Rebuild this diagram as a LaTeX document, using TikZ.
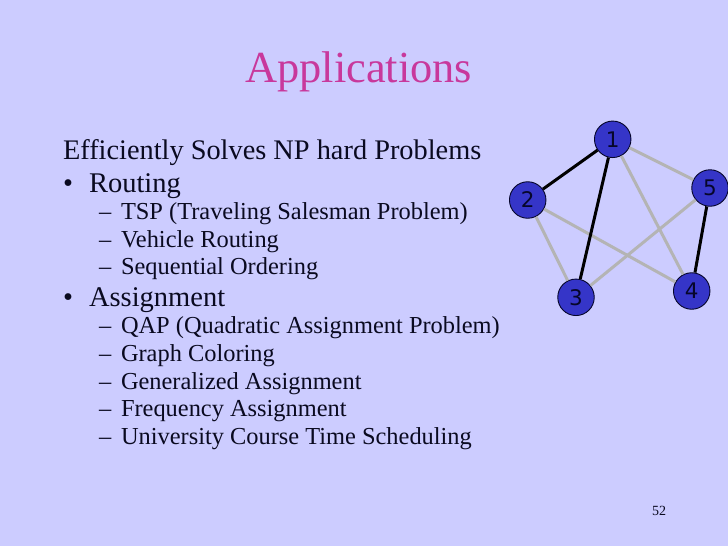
\documentclass[tikz,border=0pt]{standalone}
\usepackage{fontspec}
\setmainfont{Liberation Serif}
\newfontfamily\labelfont{DejaVu Sans}
\definecolor{slidebg}{HTML}{CCCCFF}
\definecolor{titlecol}{HTML}{C8389C}
\definecolor{nodefill}{HTML}{3535C8}
\definecolor{nodeink}{HTML}{06062A}
\definecolor{greyedge}{HTML}{B4B4B4}
\definecolor{bodyink}{HTML}{0A0A20}
\newcommand{\fs}[1]{\fontsize{#1}{#1}\selectfont}
\tikzset{
  x=1pt,y=-1pt,
  vertex/.style={circle,draw=nodeink,line width=0.9pt,fill=nodefill,minimum size=36.5pt,inner sep=0pt,text=nodeink,font=\labelfont\fs{21.5}},
  heavy/.style={draw=black,line width=3pt},
  light/.style={draw=greyedge,line width=3pt},
  txt/.style={anchor=base west,inner sep=0pt,outer sep=0pt,text=bodyink},
  lvlzero/.style={txt,font=\fs{28.35}},
  lvlone/.style={txt,font=\fs{28.5}},
  lvltwo/.style={txt,font=\fs{24.4}}
}
\begin{document}
\begin{tikzpicture}
\useasboundingbox (0,0) rectangle (728,546);
\fill[slidebg] (0,0) rectangle (728,546);
\node[anchor=base west,inner sep=0pt,text=titlecol,font=\fs{44.4}] (title) at (245,82) {Applications};
\node[lvlzero] (head) at (63,159) {Efficiently Solves NP hard Problems};
\node[lvlone] (b1) at (63,192) {•};
\node[lvlone] (routing) at (89,192) {Routing};
\node[lvltwo] (d1) at (99,219) {–};
\node[lvltwo] (tsp) at (121,219) {TSP (Traveling Salesman Problem)};
\node[lvltwo] (d2) at (99,247) {–};
\node[lvltwo] (veh) at (121,247) {Vehicle Routing};
\node[lvltwo] (d3) at (99,274) {–};
\node[lvltwo] (seq) at (121,274) {Sequential Ordering};
\node[lvlone] (b2) at (63,306) {•};
\node[lvlone] (assign) at (89,306) {Assignment};
\node[lvltwo] (d4) at (99,333) {–};
\node[lvltwo] (qap) at (121,333) {QAP (Quadratic Assignment Problem)};
\node[lvltwo] (d5) at (99,361) {–};
\node[lvltwo] (gc) at (121,361) {Graph Coloring};
\node[lvltwo] (d6) at (99,389) {–};
\node[lvltwo] (ga) at (121,389) {Generalized Assignment};
\node[lvltwo] (d7) at (99,416) {–};
\node[lvltwo] (fa) at (121,416) {Frequency Assignment};
\node[lvltwo] (d8) at (99,444) {–};
\node[lvltwo] (uc) at (121,444) {University Course Time Scheduling};
\node[txt,font=\fs{14}] (page) at (652,515) {52};
\node[vertex] (n1) at (612.7,139.3) {1};
\node[vertex] (n2) at (527.7,200) {2};
\node[vertex] (n3) at (576,297.3) {3};
\node[vertex] (n4) at (691.7,291) {4};
\node[vertex] (n5) at (710,188) {5};
\draw[light] (n1) -- (n5);
\draw[light] (n1) -- (n4);
\draw[light] (n2) -- (n4);
\draw[light] (n2) -- (n3);
\draw[light] (n3) -- (n5);
\draw[heavy] (n1) -- (n2);
\draw[heavy] (n1) -- (n3);
\draw[heavy] (n4) -- (n5);
\end{tikzpicture}
\end{document}
